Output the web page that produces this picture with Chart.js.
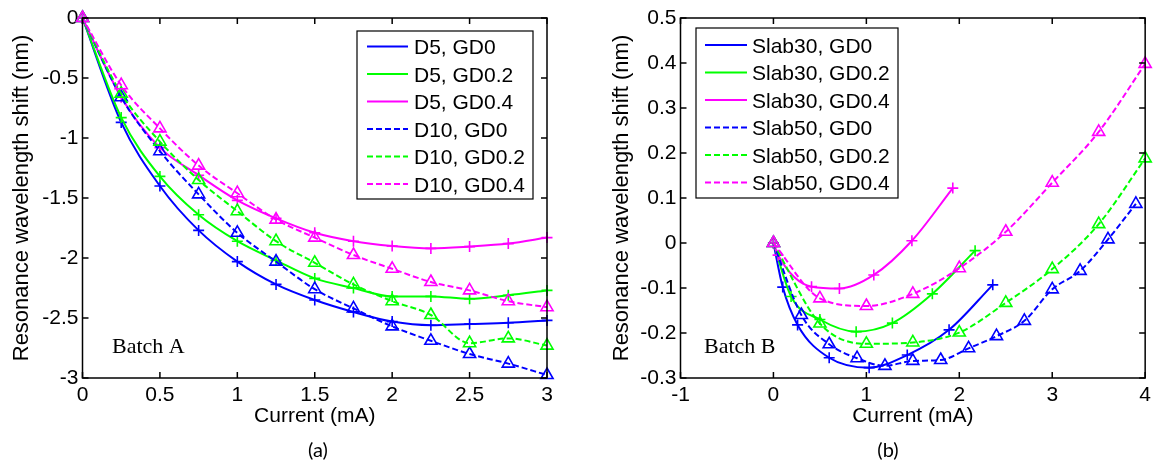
<!DOCTYPE html>
<html>
<head>
<meta charset="utf-8">
<title>Resonance wavelength shift vs current</title>
<script src="https://cdn.jsdelivr.net/npm/chart.js@4.4.1/dist/chart.umd.min.js"></script>
<style>
  html, body { margin: 0; padding: 0; background: #fff; }
  #wrap { position: relative; width: 1156px; height: 468px; overflow: hidden; }
  canvas { position: absolute; top: 0; }
  #chartA { left: 0; }
  #chartB { left: 578px; }
</style>
</head>
<body>
<div id="wrap">
  <canvas id="chartA" width="578" height="468"></canvas>
  <canvas id="chartB" width="578" height="468"></canvas>
</div>
<script>
// (a) Batch A - all series share the same current steps
const currentA = [0, 0.25, 0.5, 0.75, 1, 1.25, 1.5, 1.75, 2, 2.25, 2.5, 2.75, 3];
const d5Gd0   = [0, -0.87, -1.40, -1.77, -2.03, -2.22, -2.35, -2.45, -2.53, -2.56, -2.55, -2.54, -2.52];
const d5Gd02  = [0, -0.83, -1.32, -1.64, -1.86, -2.02, -2.17, -2.25, -2.32, -2.32, -2.34, -2.31, -2.27];
const d5Gd04  = [0, -0.66, -1.08, -1.31, -1.52, -1.67, -1.79, -1.86, -1.90, -1.92, -1.905, -1.88, -1.83];
const d10Gd0  = [0, -0.66, -1.11, -1.47, -1.79, -2.03, -2.26, -2.42, -2.57, -2.69, -2.80, -2.88, -2.975];
const d10Gd02 = [0, -0.63, -1.03, -1.35, -1.61, -1.86, -2.04, -2.22, -2.36, -2.475, -2.71, -2.67, -2.73];
const d10Gd04 = [0, -0.56, -0.92, -1.23, -1.46, -1.68, -1.83, -1.975, -2.09, -2.20, -2.27, -2.36, -2.41];

// (b) Batch B - each series has its own currents
const slab30Gd0X  = [0, 0.1, 0.26, 0.6, 1.03, 1.44, 1.89, 2.36];
const slab30Gd0Y  = [0, -0.098, -0.182, -0.255, -0.277, -0.249, -0.193, -0.093];
const slab30Gd02X = [0, 0.19, 0.5, 0.89, 1.28, 1.71, 2.17];
const slab30Gd02Y = [0, -0.119, -0.17, -0.197, -0.178, -0.113, -0.017];
const slab30Gd04X = [0, 0.05, 0.41, 0.71, 1.08, 1.49, 1.93];
const slab30Gd04Y = [0, -0.027, -0.097, -0.101, -0.071, 0.005, 0.122];
const slab50Gd0X  = [0, 0.3, 0.6, 0.9, 1.2, 1.5, 1.8, 2.1, 2.4, 2.7, 3.0, 3.3, 3.6, 3.9];
const slab50Gd0Y  = [0, -0.16, -0.225, -0.256, -0.273, -0.262, -0.26, -0.234, -0.207, -0.173, -0.103, -0.062, 0.008, 0.087];
const slab50X     = [0, 0.5, 1, 1.5, 2, 2.5, 3, 3.5, 4];
const slab50Gd02Y = [0, -0.179, -0.224, -0.221, -0.199, -0.133, -0.058, 0.042, 0.188];
const slab50Gd04Y = [0, -0.123, -0.14, -0.113, -0.056, 0.025, 0.134, 0.247, 0.398];

const xTicksA = [0, 0.5, 1, 1.5, 2, 2.5, 3];
const yTicksA = [0, -0.5, -1, -1.5, -2, -2.5, -3];
const xTicksB = [-1, 0, 1, 2, 3, 4];
const yTicksB = [0.5, 0.4, 0.3, 0.2, 0.1, 0, -0.1, -0.2, -0.3];

const BLUE = '#0000ff', GREEN = '#00ff00', MAGENTA = '#ff00ff';
const SANS = '"Liberation Sans", Arial, Helvetica, sans-serif';

function series(label, xs, ys, color, dashed, idx) {
    return {
        label: label,
        data: xs.map((x, i) => ({ x: x, y: ys[i] })),
        order: 6 - idx, // later series drawn on top, as in matlab
        showLine: true,
        borderColor: color,
        backgroundColor: 'rgba(0,0,0,0)',
        borderWidth: 2,
        borderDash: dashed ? [6, 3] : [],
        cubicInterpolationMode: 'monotone',
        pointStyle: dashed ? 'triangle' : 'cross',
        pointRadius: dashed ? 7 : 5.5,
        pointBorderWidth: 1.6,
        pointBorderColor: color,
        pointBackgroundColor: 'rgba(0,0,0,0)',
        clip: false,
    };
}

// box + inward tick marks on all four sides, like the matlab axes
const axesFrame = {
    id: 'axesFrame',
    afterDatasetsDraw(chart) {
        const { ctx, chartArea: a, scales: { x, y } } = chart;
        ctx.save();
        ctx.strokeStyle = '#000';
        ctx.lineWidth = 1.5;
        ctx.strokeRect(a.left, a.top, a.right - a.left, a.bottom - a.top);
        ctx.beginPath();
        x.ticks.forEach(t => {
            const px = x.getPixelForValue(t.value);
            ctx.moveTo(px, a.bottom); ctx.lineTo(px, a.bottom - 6);
            ctx.moveTo(px, a.top); ctx.lineTo(px, a.top + 6);
        });
        y.ticks.forEach(t => {
            const py = y.getPixelForValue(t.value);
            ctx.moveTo(a.left, py); ctx.lineTo(a.left + 6, py);
            ctx.moveTo(a.right, py); ctx.lineTo(a.right - 6, py);
        });
        ctx.stroke();
        ctx.restore();
    }
};

// boxed legend + panel texts
const boxLegend = {
    id: 'boxLegend',
    afterDraw(chart, args, opts) {
        const ctx = chart.ctx;
        ctx.save();
        ctx.fillStyle = '#fff';
        ctx.fillRect(opts.left, opts.top, opts.width, opts.height);
        ctx.strokeStyle = '#000';
        ctx.lineWidth = 1.2;
        ctx.strokeRect(opts.left, opts.top, opts.width, opts.height);
        ctx.font = '21px ' + SANS;
        ctx.textBaseline = 'alphabetic';
        chart.data.datasets.forEach((ds, i) => {
            const y = opts.top + opts.firstRow + i * opts.rowHeight;
            ctx.strokeStyle = ds.borderColor;
            ctx.lineWidth = 2;
            ctx.setLineDash(ds.borderDash);
            ctx.beginPath();
            ctx.moveTo(opts.lineStart, y);
            ctx.lineTo(opts.lineEnd, y);
            ctx.stroke();
            ctx.setLineDash([]);
            ctx.fillStyle = '#000';
            ctx.fillText(ds.label, opts.textStart, y + 7.5);
        });

        ctx.fillStyle = '#000';
        ctx.font = '22px "Liberation Serif", "Times New Roman", serif';
        ctx.fillText(opts.batch, opts.batchX, opts.batchY);
        ctx.font = '20px Lato, "Open Sans", sans-serif';
        ctx.textAlign = 'center';
        ctx.fillText(opts.caption, opts.captionX, opts.captionY);
        ctx.restore();
    }
};

function scalesFor(xMin, xMax, xTicks, yMin, yMax, yTicks, yWidth, yTitlePad) {
    const tickFont = { size: 21, family: SANS };
    return {
        x: {
            type: 'linear', min: xMin, max: xMax,
            afterBuildTicks: s => { s.ticks = xTicks.map(v => ({ value: v })); },
            afterFit: s => { s.height = 90; },
            grid: { display: false, drawTicks: false },
            border: { display: false },
            ticks: { color: '#000', font: tickFont, padding: 5, maxRotation: 0, autoSkip: false, callback: v => String(v) },
            title: { display: true, text: 'Current (mA)', color: '#000', font: { size: 21, family: SANS }, padding: { top: 0, bottom: 39 } },
        },
        y: {
            type: 'linear', min: yMin, max: yMax,
            afterBuildTicks: s => { s.ticks = yTicks.map(v => ({ value: v })); },
            afterFit: s => { s.width = yWidth; },
            grid: { display: false, drawTicks: false },
            border: { display: false },
            ticks: { color: '#000', font: tickFont, padding: 4, autoSkip: false, callback: v => String(v) },
            title: { display: true, text: 'Resonance wavelength shift (nm)', color: '#000', font: { size: 22, family: SANS }, padding: { top: yTitlePad, bottom: 0 } },
        },
    };
}

const common = {
    responsive: false,
    animation: false,
    events: [],
};

new Chart(document.getElementById('chartA'), {
    type: 'scatter',
    data: {
        datasets: [
            series('D5, GD0', currentA, d5Gd0, BLUE, false, 0),
            series('D5, GD0.2', currentA, d5Gd02, GREEN, false, 1),
            series('D5, GD0.4', currentA, d5Gd04, MAGENTA, false, 2),
            series('D10, GD0', currentA, d10Gd0, BLUE, true, 3),
            series('D10, GD0.2', currentA, d10Gd02, GREEN, true, 4),
            series('D10, GD0.4', currentA, d10Gd04, MAGENTA, true, 5),
        ],
    },
    options: Object.assign({}, common, {
        layout: { padding: { left: 0, right: 31, top: 18, bottom: 0 } },
        scales: scalesFor(0, 3, xTicksA, -3, 0, yTicksA, 82.5, 9),
        plugins: {
            legend: { display: false },
            tooltip: { enabled: false },
            boxLegend: {
                left: 357, top: 31, width: 176, height: 168,
                firstRow: 15.5, rowHeight: 27.5,
                lineStart: 367, lineEnd: 408, textStart: 414,
                batch: 'Batch A', batchX: 112, batchY: 353,
                caption: '(a)', captionX: 318, captionY: 457,
            },
        },
    }),
    plugins: [axesFrame, boxLegend],
});

new Chart(document.getElementById('chartB'), {
    type: 'scatter',
    data: {
        datasets: [
            series('Slab30, GD0', slab30Gd0X, slab30Gd0Y, BLUE, false, 0),
            series('Slab30, GD0.2', slab30Gd02X, slab30Gd02Y, GREEN, false, 1),
            series('Slab30, GD0.4', slab30Gd04X, slab30Gd04Y, MAGENTA, false, 2),
            series('Slab50, GD0', slab50Gd0X, slab50Gd0Y, BLUE, true, 3),
            series('Slab50, GD0.2', slab50X, slab50Gd02Y, GREEN, true, 4),
            series('Slab50, GD0.4', slab50X, slab50Gd04Y, MAGENTA, true, 5),
        ],
    },
    options: Object.assign({}, common, {
        layout: { padding: { left: 0, right: 9, top: 18, bottom: 0 } },
        scales: scalesFor(-1, 4, xTicksB, -0.3, 0.5, yTicksB, 102.5, 31),
        plugins: {
            legend: { display: false },
            tooltip: { enabled: false },
            boxLegend: {
                left: 118, top: 28, width: 202, height: 170,
                firstRow: 17, rowHeight: 27.5,
                lineStart: 127, lineEnd: 169, textStart: 174,
                batch: 'Batch B', batchX: 126, batchY: 353,
                caption: '(b)', captionX: 310, captionY: 457,
            },
        },
    }),
    plugins: [axesFrame, boxLegend],
});
</script>
</body>
</html>
